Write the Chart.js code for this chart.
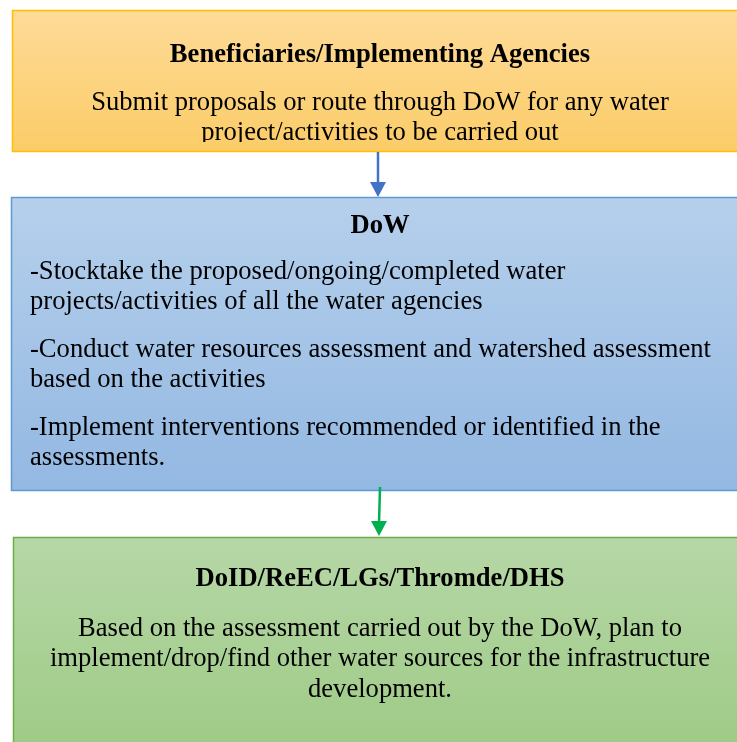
<!DOCTYPE html>
<html>
<head>
<meta charset="utf-8">
<script src="https://cdn.jsdelivr.net/npm/chart.js@4/dist/chart.umd.min.js"></script>
<style>
    body { margin: 0; background: #ffffff; }
    #wrap { width: 737px; height: 742px; position: relative; }
</style>
</head>
<body>
<div id="wrap"><canvas id="myChart"></canvas></div>
<script>
// textos do fluxograma
var titulos = ['Beneficiaries/Implementing Agencies', 'DoW', 'DoID/ReEC/LGs/Thromde/DHS']
var textoCaixa1 = ['Submit proposals or route through DoW for any water', 'project/activities to be carried out']
var textoCaixa2 = [
    ['-Stocktake the proposed/ongoing/completed water', 'projects/activities of all the water agencies'],
    ['-Conduct water resources assessment and watershed assessment', 'based on the activities'],
    ['-Implement interventions recommended or identified in the', 'assessments.']
]
var textoCaixa3 = ['Based on the assessment carried out by the DoW, plan to', 'implement/drop/find other water sources for the infrastructure', 'development.']

// layout (unidades da escala = pixels da figura)
var caixas = [
    { x0: 12, y0: 10, x1: 745, y1: 151, borda: '#ffc000', cor1: '#fedb98', cor2: '#fbcc68' },
    { x0: 11, y0: 197, x1: 745, y1: 490, borda: '#5b9bd5', cor1: '#b6d0ec', cor2: '#93b8e2' },
    { x0: 13, y0: 537, x1: 745, y1: 760, borda: '#70ad47', cor1: '#b6d7a7', cor2: '#9dca84' }
]
var setas = [
    { x0: 378, y0: 152, x1: 378, y1: 197, cor: '#4472c4' },
    { x0: 380, y0: 487, x1: 379, y1: 536, cor: '#00b050' }
]

const FONTE = '"Liberation Serif", "Times New Roman", serif'
const CORPO = '26.6px ' + FONTE
const TITULO = 'bold 26.6px ' + FONTE

var desenhoPlugin = {
    id: 'fluxograma',
    beforeDatasetsDraw(chart) {
        const ctx = chart.ctx
        const sx = chart.scales.x
        const sy = chart.scales.y
        const px = v => sx.getPixelForValue(v)
        const py = v => sy.getPixelForValue(v)

        caixas.forEach(c => {
            var g = ctx.createLinearGradient(0, py(c.y0), 0, py(c.y1))
            g.addColorStop(0, c.cor1)
            g.addColorStop(1, c.cor2)
            ctx.fillStyle = g
            ctx.fillRect(px(c.x0), py(c.y0), px(c.x1) - px(c.x0), py(c.y1) - py(c.y0))
            ctx.strokeStyle = c.borda
            ctx.lineWidth = 1.5
            ctx.strokeRect(px(c.x0) + 0.5, py(c.y0) + 0.5, px(c.x1) - px(c.x0), py(c.y1) - py(c.y0))
        })

        setas.forEach(s => {
            var xa = px(s.x0), ya = py(s.y0), xb = px(s.x1), yb = py(s.y1)
            ctx.strokeStyle = s.cor
            ctx.fillStyle = s.cor
            ctx.lineWidth = 2.5
            ctx.beginPath()
            ctx.moveTo(xa, ya)
            ctx.lineTo(xb, yb - 12)
            ctx.stroke()
            ctx.beginPath()
            ctx.moveTo(xb - 8, yb - 15)
            ctx.lineTo(xb + 8, yb - 15)
            ctx.lineTo(xb, yb)
            ctx.closePath()
            ctx.fill()
        })

        ctx.fillStyle = '#000000'
        ctx.textBaseline = 'middle'

        // caixa 1
        ctx.textAlign = 'center'
        ctx.font = TITULO
        ctx.fillText(titulos[0], px(380), py(55))
        ctx.save()
        ctx.beginPath()
        ctx.rect(0, 0, chart.width, py(142))
        ctx.clip()
        ctx.font = CORPO
        textoCaixa1.forEach((t, i) => ctx.fillText(t, px(380), py(103 + i * 30)))
        ctx.restore()

        // caixa 2
        ctx.font = TITULO
        ctx.fillText(titulos[1], px(380), py(226))
        ctx.textAlign = 'left'
        ctx.font = CORPO
        textoCaixa2.forEach((par, j) => {
            par.forEach((t, i) => ctx.fillText(t, px(30), py(272 + j * 78 + i * 30)))
        })

        // caixa 3
        ctx.textAlign = 'center'
        ctx.font = TITULO
        ctx.fillText(titulos[2], px(380), py(579))
        ctx.font = CORPO
        textoCaixa3.forEach((t, i) => ctx.fillText(t, px(380), py(629 + i * 30.5)))
    }
}

var ctx = document.getElementById('myChart').getContext('2d')
var chart = new Chart(ctx, {
    type: 'scatter',
    data: { datasets: [{ data: [] }] },
    options: {
        responsive: true,
        maintainAspectRatio: false,
        animation: false,
        layout: { padding: 0 },
        plugins: { legend: { display: false }, tooltip: { enabled: false } },
        scales: {
            x: { display: false, min: 0, max: 737 },
            y: { display: false, min: 0, max: 742, reverse: true }
        }
    },
    plugins: [desenhoPlugin]
})
</script>
</body>
</html>
